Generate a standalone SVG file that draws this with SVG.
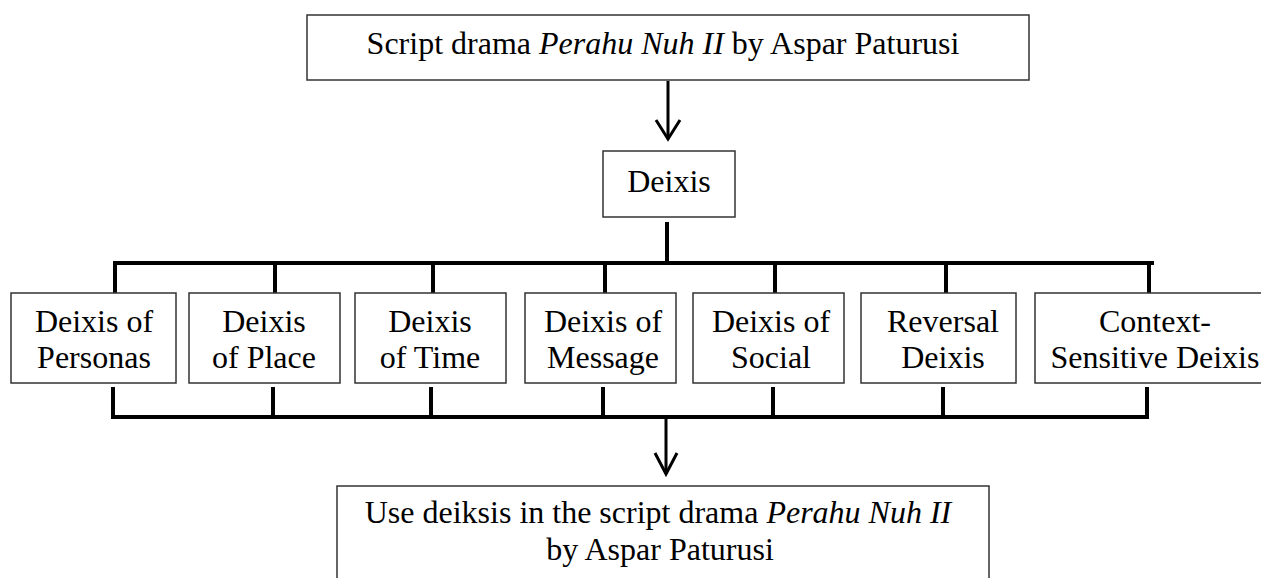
<svg xmlns="http://www.w3.org/2000/svg" width="1261" height="578" viewBox="0 0 1261 578">
<defs>
<style>
.box{fill:#fff;stroke:#333;stroke-width:1.5}
.t{font-family:"Liberation Serif","Times New Roman",serif;font-size:32px;fill:#000;text-anchor:middle}
.c{stroke:#000;stroke-width:4;fill:none}
.a{stroke:#000;stroke-width:3;fill:none}
</style>
</defs>
<rect width="1261" height="578" fill="#fff"/>
<g id="connectors">
<line class="a" x1="668" y1="81" x2="668" y2="139"/>
<polyline class="a" points="656,120 668,139 680,120"/>
<line class="c" x1="667" y1="222" x2="667" y2="263"/>
<line class="c" x1="113" y1="263" x2="1154" y2="263"/>
<line class="c" x1="115" y1="263" x2="115" y2="293"/>
<line class="c" x1="275" y1="263" x2="275" y2="293"/>
<line class="c" x1="433" y1="263" x2="433" y2="293"/>
<line class="c" x1="605" y1="263" x2="605" y2="293"/>
<line class="c" x1="775" y1="263" x2="775" y2="293"/>
<line class="c" x1="946" y1="263" x2="946" y2="293"/>
<line class="c" x1="1149" y1="263" x2="1149" y2="293"/>
<line class="c" x1="113" y1="387" x2="113" y2="417"/>
<line class="c" x1="273" y1="387" x2="273" y2="417"/>
<line class="c" x1="431" y1="387" x2="431" y2="417"/>
<line class="c" x1="603" y1="387" x2="603" y2="417"/>
<line class="c" x1="773" y1="387" x2="773" y2="417"/>
<line class="c" x1="943" y1="387" x2="943" y2="417"/>
<line class="c" x1="1147" y1="387" x2="1147" y2="417"/>
<line class="c" x1="111" y1="417" x2="1149" y2="417"/>
<line class="a" x1="666" y1="419" x2="666" y2="474"/>
<polyline class="a" points="655,453 666,474 677,453"/>
</g>
<g id="top">
<rect class="box" x="307" y="15" width="722" height="65"/>
<text class="t" x="663" y="54">Script drama <tspan font-style="italic">Perahu Nuh II</tspan> by Aspar Paturusi</text>
</g>
<g id="deixis">
<rect class="box" x="603" y="151" width="132" height="66"/>
<text class="t" x="669" y="192">Deixis</text>
</g>
<g id="n1">
<rect class="box" x="11" y="293" width="165" height="90"/>
<text class="t" x="94" y="332">Deixis of</text>
<text class="t" x="94" y="368">Personas</text>
</g>
<g id="n2">
<rect class="box" x="189" y="293" width="151" height="90"/>
<text class="t" x="264" y="332">Deixis</text>
<text class="t" x="264" y="368">of Place</text>
</g>
<g id="n3">
<rect class="box" x="355" y="293" width="151" height="90"/>
<text class="t" x="430" y="332">Deixis</text>
<text class="t" x="430" y="368">of Time</text>
</g>
<g id="n4">
<rect class="box" x="525" y="293" width="151" height="90"/>
<text class="t" x="603" y="332">Deixis of</text>
<text class="t" x="603" y="368">Message</text>
</g>
<g id="n5">
<rect class="box" x="693" y="293" width="151" height="90"/>
<text class="t" x="771" y="332">Deixis of</text>
<text class="t" x="771" y="368">Social</text>
</g>
<g id="n6">
<rect class="box" x="861" y="293" width="155" height="90"/>
<text class="t" x="943" y="332">Reversal</text>
<text class="t" x="943" y="368">Deixis</text>
</g>
<g id="n7">
<rect class="box" x="1035" y="293" width="240" height="90"/>
<text class="t" x="1155" y="332">Context-</text>
<text class="t" x="1155" y="368">Sensitive Deixis</text>
</g>
<g id="bottom">
<rect class="box" x="337" y="486" width="652" height="110"/>
<text class="t" x="658" y="523">Use deiksis in the script drama <tspan font-style="italic">Perahu Nuh II</tspan></text>
<text class="t" x="660" y="560">by Aspar Paturusi</text>
</g>
</svg>
